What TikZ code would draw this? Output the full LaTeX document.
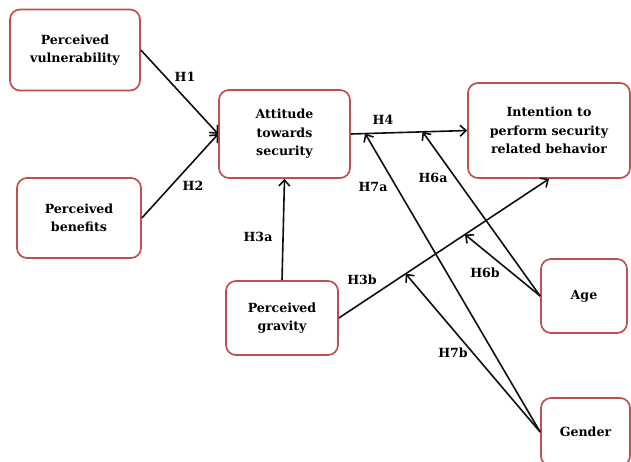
\documentclass[tikz,border=0pt]{standalone}
\usepackage{fontspec}
\setmainfont{DejaVu Serif}
\usepackage{tikz}
\usetikzlibrary{arrows.meta}
\definecolor{boxred}  {RGB}{192, 80, 77}
\definecolor{linkblk} {RGB}{ 15, 15, 15}
\tikzset{
  construct/.style = {draw=boxred, line width=1.7pt, rounded corners=10pt,
                      fill=white, inner sep=0pt, align=center},
  link/.style      = {->, linkblk, line width=1.6pt},
  hyp/.style       = {inner sep=0pt},
}

\begin{document}
\begin{tikzpicture}[>={Straight Barb[length=6pt,width=11pt]}, x=1pt, y=-1pt,
    font=\fontsize{12.6}{18.5}\selectfont\bfseries]

  % page frame (pixel grid of the figure, y grows downwards)
  \clip (0,0) rectangle (631,461);
  \fill[white] (0,0) rectangle (631,461);

  % ── constructs ────────────────────────────────────────────────────────────
  \node[construct, minimum width=130pt, minimum height=81pt] (vul)
    at (75,50) {Perceived\\vulnerability};
  \node[construct, minimum width=124pt, minimum height=80pt] (ben)
    at (79,218) {Perceived\\benefits};
  \node[construct, minimum width=131pt, minimum height=88pt] (att)
    at (284.5,134) {Attitude\\towards\\security};
  \node[construct, minimum width=162pt, minimum height=95pt] (int)
    at (549,130.5) {Intention to\\perform security\\related behavior};
  \node[construct, minimum width=112pt, minimum height=74pt] (grav)
    at (282,318) {Perceived\\gravity};
  \node[construct, minimum width=86pt, minimum height=74pt] (age)
    at (584,296) {Age};
  \node[construct, minimum width=89pt, minimum height=68pt] (gen)
    at (585.5,432) {Gender};

  % ── direct paths ──────────────────────────────────────────────────────────
  \draw[link] (vul.east) -- (att.west);
  \draw[link] (ben.east) -- (att.west);
  \draw[link] (grav.north) -- (att.south);
  \draw[link] (att.east) -- (int.west)
    coordinate[pos=0.123] (h4g) coordinate[pos=0.617] (h4a);
  \draw[link] (grav.east) -- (int.south)
    coordinate[pos=0.318] (h3g) coordinate[pos=0.60] (h3a);

  % ── moderating paths (end on the H4 / H3b lines) ──────────────────────────
  \draw[link] (age.west) -- (h4a);
  \draw[link] (age.west) -- (h3a);
  \draw[link] (gen.west) -- (h4g);
  \draw[link] (gen.west) -- (h3g);

  % ── hypothesis labels ─────────────────────────────────────────────────────
  \node[hyp] (lH1)  at (185,77)  {H1};
  \node[hyp] (lH2)  at (193,186) {H2};
  \node[hyp] (lH3a) at (258,237) {H3a};
  \node[hyp] (lH3b) at (362,280) {H3b};
  \node[hyp] (lH4)  at (383,120) {H4};
  \node[hyp] (lH6a) at (433,178) {H6a};
  \node[hyp] (lH6b) at (485,273) {H6b};
  \node[hyp] (lH7a) at (373,187) {H7a};
  \node[hyp] (lH7b) at (453,353) {H7b};

\end{tikzpicture}
\end{document}
